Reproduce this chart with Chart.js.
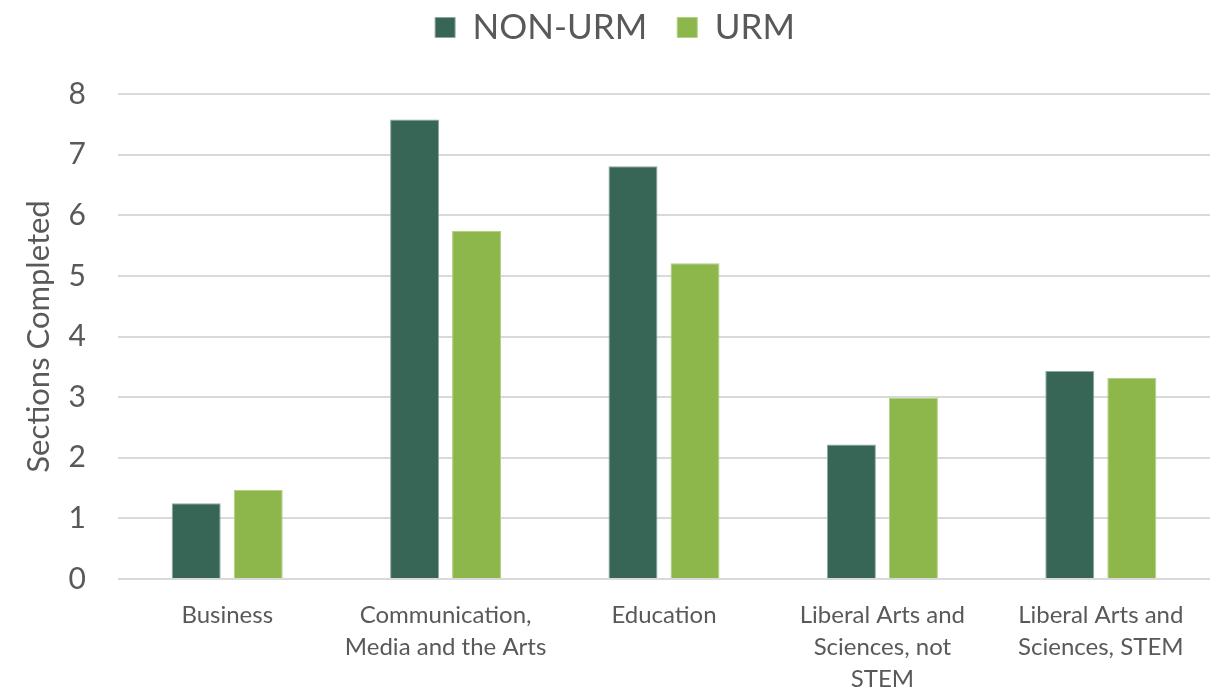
<!DOCTYPE html>
<html>
<head>
<meta charset="utf-8">
<script src="https://cdn.jsdelivr.net/npm/chart.js@4"></script>
<style>
  html, body { margin: 0; padding: 0; background: #fff; }
  #wrap { width: 1220px; height: 691px; }
</style>
</head>
<body>
<div id="wrap"><canvas id="chart" width="1220" height="691"></canvas></div>
<script>
const categories = [
  'Business',
  ['Communication,', 'Media and the Arts'],
  'Education',
  ['Liberal Arts and', 'Sciences, not', 'STEM'],
  ['Liberal Arts and', 'Sciences, STEM']
];
const nonUrm = [1.25, 7.58, 6.81, 2.22, 3.43];
const urm = [1.47, 5.74, 5.21, 2.99, 3.32];
const yTicks = [0, 1, 2, 3, 4, 5, 6, 7, 8];

const FONT = 'Lato, "Open Sans", sans-serif';
const TEXT = '#595959';

// extra room under the legend
const legendGap = {
  id: 'legendGap',
  beforeInit(chart) {
    const fit = chart.legend.fit;
    chart.legend.fit = function () {
      fit.call(this);
      this.height += 39;
    };
  }
};

new Chart(document.getElementById('chart').getContext('2d'), {
  type: 'bar',
  data: {
    labels: categories,
    datasets: [
      { label: 'NON-URM', data: nonUrm, backgroundColor: '#376556', borderColor: '#8fa9a0', borderWidth: 1 },
      { label: 'URM', data: urm, backgroundColor: '#8db64b', borderColor: '#b1cf85', borderWidth: 1 }
    ]
  },
  options: {
    responsive: false,
    animation: false,
    categoryPercentage: 0.568,
    barPercentage: 0.79,
    layout: { padding: { top: -20, right: 10, left: 20, bottom: 0 } },
    plugins: {
      legend: {
        position: 'top',
        labels: {
          color: TEXT,
          font: { family: FONT, size: 35 },
          boxWidth: 20,
          boxHeight: 20,
          padding: 30
        }
      },
      tooltip: { enabled: false }
    },
    scales: {
      x: {
        grid: { display: false },
        border: { display: false },
        afterFit: axis => { axis.height = 112; },
        ticks: {
          color: TEXT,
          font: { family: FONT, size: 24, lineHeight: 1.33 },
          maxRotation: 0,
          autoSkip: false,
          padding: 12
        }
      },
      y: {
        min: 0,
        max: 8,
        afterBuildTicks: axis => { axis.ticks = yTicks.map(v => ({ value: v })); },
        afterFit: axis => { axis.width = 98; },
        grid: { color: '#d9d9d9', lineWidth: 2, drawTicks: false },
        border: { display: false },
        ticks: {
          color: TEXT,
          font: { family: FONT, size: 30 },
          padding: 32
        },
        title: {
          display: true,
          text: 'Sections Completed',
          color: TEXT,
          font: { family: FONT, size: 31 },
          padding: { top: 0, bottom: 0 }
        }
      }
    }
  },
  plugins: [legendGap]
});
</script>
</body>
</html>
